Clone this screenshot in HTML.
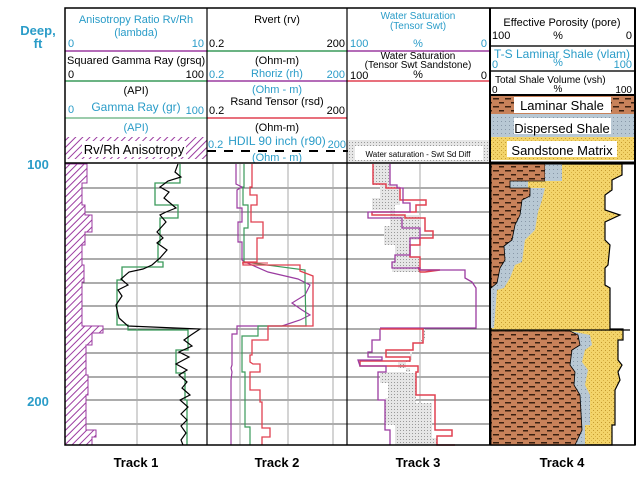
<!DOCTYPE html>
<html><head><meta charset="utf-8"><style>
html,body{margin:0;padding:0;background:#fff;width:644px;height:480px;overflow:hidden}
svg{display:block;font-family:"Liberation Sans",sans-serif}
.b{fill:#2a9cc8}.k{fill:#000}
</style></head><body>
<svg width="644" height="480" viewBox="0 0 644 480" xmlns="http://www.w3.org/2000/svg">
<defs>
<pattern id="hatch" width="5" height="5" patternUnits="userSpaceOnUse" patternTransform="rotate(45)">
<rect width="5" height="5" fill="#fff"/><line x1="0" y1="0" x2="0" y2="5" stroke="#9b3ba0" stroke-width="2"/></pattern>
<pattern id="shale" width="12" height="8" patternUnits="userSpaceOnUse">
<rect width="12" height="8" fill="#c8825a"/><rect x="1" y="2" width="6" height="1.5" fill="#3a2010"/><rect x="7" y="6" width="5" height="1.5" fill="#3a2010"/></pattern>
<pattern id="disp" width="4" height="4" patternUnits="userSpaceOnUse">
<rect width="4" height="4" fill="#b8c8d4"/><rect x="1" y="1" width="1" height="1" fill="#8898a8"/></pattern>
<pattern id="sand" width="4" height="4" patternUnits="userSpaceOnUse">
<rect width="4" height="4" fill="#f3d46a"/><rect x="1" y="2" width="1" height="1" fill="#c49a30"/><rect x="3" y="0" width="1" height="1" fill="#d8b040"/></pattern>
<pattern id="dots" width="3" height="3" patternUnits="userSpaceOnUse">
<rect width="3" height="3" fill="#e6e6e6"/><rect x="1" y="1" width="1" height="1" fill="#999"/></pattern>
</defs>

<!-- depth labels -->
<text x="38" y="35" font-size="13" font-weight="bold" class="b" text-anchor="middle">Deep,</text>
<text x="38" y="48" font-size="13" font-weight="bold" class="b" text-anchor="middle">ft</text>
<text x="38" y="169" font-size="13" font-weight="bold" class="b" text-anchor="middle">100</text>
<text x="38" y="406" font-size="13" font-weight="bold" class="b" text-anchor="middle">200</text>

<!-- Track 1 header -->
<g font-size="11">
<text x="136" y="23" class="b" text-anchor="middle">Anisotropy Ratio Rv/Rh</text>
<text x="136" y="36" class="b" text-anchor="middle">(lambda)</text>
<text x="68" y="47" class="b">0</text><text x="204" y="47" class="b" text-anchor="end">10</text>
<line x1="65" y1="51" x2="207" y2="51" stroke="#9b3ba0" stroke-width="1.5"/>
<text x="67" y="64">Squared Gamma Ray (grsq)</text>
<text x="68" y="78">0</text><text x="204" y="78" text-anchor="end">100</text>
<line x1="65" y1="81" x2="207" y2="81" stroke="#3a9a5a" stroke-width="1.5"/>
<text x="136" y="94" text-anchor="middle">(API)</text>
<text x="68" y="113" class="b">0</text><text x="136" y="111" class="b" text-anchor="middle" font-size="12">Gamma Ray (gr)</text><text x="204" y="114" class="b" text-anchor="end">100</text>
<line x1="65" y1="118" x2="207" y2="118" stroke="#3a9a5a" stroke-width="1"/>
<text x="136" y="131" class="b" text-anchor="middle">(API)</text>
<rect x="65" y="137" width="142" height="22" fill="url(#hatch)"/>
<rect x="82" y="141" width="104" height="16" fill="#fff"/>
<text x="134" y="154" text-anchor="middle" font-size="13">Rv/Rh Anisotropy</text>
</g>

<!-- Track 2 header -->
<g font-size="11">
<text x="277" y="23" text-anchor="middle">Rvert (rv)</text>
<text x="209" y="47">0.2</text><text x="345" y="47" text-anchor="end">200</text>
<line x1="207" y1="51" x2="347" y2="51" stroke="#3a9a5a" stroke-width="1.5"/>
<text x="277" y="64" text-anchor="middle">(Ohm-m)</text>
<text x="209" y="78" class="b">0.2</text><text x="277" y="77" class="b" text-anchor="middle">Rhoriz (rh)</text><text x="345" y="78" class="b" text-anchor="end">200</text>
<line x1="207" y1="81" x2="347" y2="81" stroke="#9b3ba0" stroke-width="1.5"/>
<text x="277" y="93" class="b" text-anchor="middle">(Ohm - m)</text>
<text x="277" y="105" text-anchor="middle">Rsand Tensor (rsd)</text>
<text x="209" y="114">0.2</text><text x="345" y="114" text-anchor="end">200</text>
<line x1="207" y1="118" x2="347" y2="118" stroke="#e04050" stroke-width="1.5"/>
<text x="277" y="131" text-anchor="middle">(Ohm-m)</text>
<text x="208" y="148" class="b">0.2</text><text x="277" y="145" class="b" text-anchor="middle" font-size="12">HDIL 90 inch (r90)</text><text x="346" y="148" class="b" text-anchor="end">200</text>
<line x1="207" y1="151" x2="352" y2="151" stroke="#000" stroke-width="2" stroke-dasharray="9,8"/>
<text x="277" y="161" class="b" text-anchor="middle">(Ohm - m)</text>
</g>

<!-- Track 3 header -->
<g font-size="10">
<text x="418" y="19" class="b" text-anchor="middle">Water Saturation</text>
<text x="418" y="29" class="b" text-anchor="middle">(Tensor Swt)</text>
<text x="350" y="47" class="b" font-size="11">100</text><text x="418" y="47" class="b" text-anchor="middle" font-size="11">%</text><text x="487" y="47" class="b" text-anchor="end" font-size="11">0</text>
<line x1="347" y1="51" x2="490" y2="51" stroke="#9b3ba0" stroke-width="1.5"/>
<text x="418" y="59" text-anchor="middle">Water Saturation</text>
<text x="418" y="68" text-anchor="middle">(Tensor Swt Sandstone)</text>
<text x="350" y="79" font-size="11">100</text><text x="418" y="78" text-anchor="middle" font-size="11">%</text><text x="487" y="79" text-anchor="end" font-size="11">0</text>
<line x1="347" y1="81" x2="490" y2="81" stroke="#e04050" stroke-width="1.5"/>
<rect x="348" y="140" width="141" height="23" fill="url(#dots)"/>
<rect x="355" y="146" width="128" height="14" fill="#fff"/>
<text x="418" y="157" text-anchor="middle" font-size="8">Water saturation - Swt Sd Diff</text>
</g>

<!-- Track 4 header -->
<g font-size="11">
<text x="562" y="26" text-anchor="middle">Effective Porosity (pore)</text>
<text x="492" y="39">100</text><text x="558" y="39" text-anchor="middle">%</text><text x="632" y="39" text-anchor="end">0</text>
<line x1="490" y1="46" x2="635" y2="46" stroke="#555" stroke-width="2"/>
<text x="562" y="58" class="b" text-anchor="middle" font-size="12">T-S Laminar Shale (vlam)</text>
<text x="492" y="68" class="b">0</text><text x="558" y="66" class="b" text-anchor="middle">%</text><text x="632" y="68" class="b" text-anchor="end">100</text>
<line x1="490" y1="71" x2="635" y2="71" stroke="#555" stroke-width="2"/>
<text x="495" y="83" font-size="10">Total Shale Volume (vsh)</text>
<text x="492" y="93" font-size="10">0</text><text x="558" y="92" text-anchor="middle" font-size="10">%</text><text x="632" y="93" text-anchor="end" font-size="10">100</text>
<rect x="490" y="95" width="145" height="19" fill="url(#shale)"/>
<rect x="490" y="114" width="145" height="23" fill="url(#disp)"/>
<rect x="490" y="137" width="145" height="23" fill="url(#sand)"/>
<rect x="514" y="97" width="97" height="16" fill="#fff"/>
<rect x="514" y="118" width="97" height="16" fill="#fff"/>
<rect x="507" y="141" width="110" height="16" fill="#fff"/>
<text x="562" y="110" text-anchor="middle" font-size="13">Laminar Shale</text>
<text x="562" y="133" text-anchor="middle" font-size="13">Dispersed Shale</text>
<text x="562" y="155" text-anchor="middle" font-size="13">Sandstone Matrix</text>
<line x1="490" y1="95" x2="635" y2="95" stroke="#000" stroke-width="2"/>
</g>

<!-- grid in data area -->
<g stroke="#222" stroke-width="0.8">
<line x1="65" y1="188" x2="633" y2="188"/><line x1="65" y1="212" x2="490" y2="212"/>
<line x1="65" y1="235" x2="490" y2="235"/><line x1="65" y1="259" x2="490" y2="259"/>
<line x1="65" y1="283" x2="490" y2="283"/><line x1="65" y1="306" x2="490" y2="306"/>
<line x1="65" y1="329" x2="490" y2="329"/><line x1="65" y1="353" x2="490" y2="353"/>
<line x1="65" y1="377" x2="490" y2="377"/><line x1="65" y1="400" x2="490" y2="400"/>
<line x1="65" y1="424" x2="490" y2="424"/>
</g>
<g stroke="#aaa" stroke-width="1">
<line x1="137" y1="164" x2="137" y2="445"/><line x1="240" y1="164" x2="240" y2="445"/>
<line x1="288" y1="164" x2="288" y2="445"/><line x1="333" y1="164" x2="333" y2="445"/>
<line x1="420" y1="164" x2="420" y2="445"/>
</g>

<!-- Track 1 data: anisotropy hatch -->
<path d="M65,164 L87,164 L87,183 L82,183 L82,205 L85,205 L85,215 L92,215 L92,232 L85,232 L85,245 L82,245 L82,265 L84,265 L84,282 L82,282 L82,326 L103,326 L103,333 L92,333 L92,345 L86,345 L86,375 L88,375 L88,395 L86,395 L86,430 L96,430 L96,437 L92,437 L92,445 L65,445 Z" fill="url(#hatch)" stroke="#9b3ba0" stroke-width="1"/>
<!-- GR green -->
<polyline fill="none" stroke="#3a9a5a" stroke-width="1.3" points="180,164 180,183 155,183 155,205 178,205 178,218 160,218 160,243 158,243 158,262 163,262 163,267 122,267 122,280 117,280 117,325 128,325 128,330 188,330 188,350 176,350 176,373 185,373 185,400 187,400 187,445"/>
<!-- GR black -->
<polyline fill="none" stroke="#000" stroke-width="1.2" points="178,164 175,172 181,177 168,181 160,187 169,192 164,198 176,208 166,212 160,215 166,222 157,232 163,238 157,243 167,250 160,258 152,265 143,269 129,272 121,279 128,285 118,290 122,296 116,305 119,318 128,326 200,329 191,335 184,340 192,346 179,352 189,357 176,364 187,370 179,375 187,382 182,388 190,395 180,400 188,407 181,414 187,420 181,426 186,433 181,440 183,445"/>

<!-- Track 2 data -->
<polyline fill="none" stroke="#9b3ba0" stroke-width="1.2" points="236,164 236,184 242,187 237,190 237,208 242,208 242,222 238,222 238,242 242,242 242,260 245,262 268,272 298,279 310,285 305,295 292,303 302,310 310,315 300,320 282,326 237,326 237,334 232,334 232,365 231,368 232,372 231,380 231,445"/>
<polyline fill="none" stroke="#3a9a5a" stroke-width="1.2" points="244,164 244,187 243,187 243,205 248,205 248,228 244,228 244,262 305,270 305,282 306,326 258,326 258,336 242,336 242,372 245,372 245,427 250,427 250,445"/>
<polyline fill="none" stroke="#e04050" stroke-width="1.3" points="252,164 252,187 250,187 250,195 257,195 257,205 251,205 251,222 263,222 263,238 257,238 257,262 243,262 243,265 300,265 300,271 313,276 313,326 268,326 268,340 252,340 252,355 250,355 250,362 253,364 260,364 260,372 250,372 250,390 260,390 260,402 262,402 262,428 270,428 270,437 262,437 262,445"/>
<line x1="242" y1="263" x2="268" y2="263" stroke="#e04050" stroke-width="1"/>

<!-- Track 3 data -->
<path d="M373,164 L390,164 L390,186 L400,186 L400,205 L395,205 L395,215 L420,215 L420,240 L410,240 L410,257 L420,257 L420,272 L392,272 L392,262 L395,262 L395,245 L384,245 L384,226 L390,226 L390,210 L372,210 L372,198 L380,198 L380,185 L373,185 Z" fill="url(#dots)"/>
<polyline fill="none" stroke="#e04050" stroke-width="1.5" points="373,164 373,184 386,184 386,188 400,188 400,200 426,200 426,205 416,205 416,212 372,212 372,215 405,215 405,218 425,218 425,231 433,231 433,238 420,238 420,245 410,245 410,257 420,257 420,270 440,270 425,272 420,272 418,267"/>
<polyline fill="none" stroke="#9b3ba0" stroke-width="1.3" points="390,164 390,185 397,185 397,188 403,188 403,203 410,203 410,212 368,212 368,218 402,218 402,228 420,228 420,238 410,238 410,255 395,255 395,262 392,262 392,268 420,268 420,270 465,270 465,278 472,282 476,288 476,328 380,328"/>
<path d="M380,329 L425,329 L425,340 L420,340 L420,352 L410,352 L410,362 L398,362 L398,368 L410,368 L410,372 L380,372 L380,383 L388,383 L388,398 L385,398 L385,425 L395,425 L395,445 L437,445 L437,438 L432,438 L432,403 L416,403 L416,373 L406,373 L406,360 L412,360 L412,352 L420,352 L420,343 L424,343 L424,329 Z" fill="url(#dots)"/>
<polyline fill="none" stroke="#e04050" stroke-width="1.5" points="380,329 423,329 423,343 413,343 413,350 386,350 386,357 410,357 410,361 360,361 360,366 418,366 418,372 416,372 416,395 435,395 435,430 452,430 452,436 437,436 437,445 455,445"/>
<polyline fill="none" stroke="#9b3ba0" stroke-width="1.3" points="380,329 380,340 372,340 372,352 368,352 368,357 382,357 382,360 358,360 360,366 386,366 386,372 378,372 378,400 385,400 385,430 390,430 390,445"/>

<!-- Track 4 data -->
<rect x="491" y="164" width="142" height="281" fill="#fff"/>
<path d="M491,164 L622,164 L622,175 L612,180 L612,190 L605,195 L605,210 L620,215 L605,222 L605,240 L610,245 L608,265 L605,268 L605,285 L610,288 L610,329 L623,329 L623,340 L618,340 L618,360 L622,365 L618,372 L620,380 L615,390 L615,425 L612,425 L612,445 L491,445 Z" fill="url(#sand)" stroke="#000" stroke-width="1.2"/>
<path d="M491,164 L546,164 L546,180 L528,180 L528,188 L545,188 L542,200 L538,212 L535,230 L525,240 L522,262 L515,265 L510,278 L504,288 L497,290 L494,328 L491,328 Z" fill="url(#disp)"/>
<path d="M491,164 L545,164 L545,181 L510,181 L510,188 L530,188 L530,196 L522,200 L520,215 L515,225 L512,240 L504,246 L505,260 L500,268 L497,283 L491,288 Z" fill="url(#shale)" stroke="#000" stroke-width="0.8"/>
<rect x="545" y="164" width="17" height="17" fill="url(#disp)"/>
<path d="M491,331 L570,331 L590,335 L592,345 L585,350 L582,362 L588,370 L585,385 L590,395 L590,425 L585,425 L585,445 L491,445 Z" fill="url(#disp)"/>
<path d="M491,331 L570,331 L578,335 L580,345 L572,350 L570,365 L575,372 L574,385 L580,395 L582,430 L575,445 L491,445 Z" fill="url(#shale)" stroke="#000" stroke-width="0.8"/>
<line x1="491" y1="330" x2="630" y2="330" stroke="#000" stroke-width="1.2"/>

<!-- frames -->
<rect x="65" y="8" width="570" height="437" fill="none" stroke="#000" stroke-width="1.5"/>
<line x1="65" y1="163" x2="635" y2="163" stroke="#000" stroke-width="1.5"/>
<line x1="207" y1="8" x2="207" y2="445" stroke="#000" stroke-width="1.2"/>
<line x1="347" y1="8" x2="347" y2="445" stroke="#000" stroke-width="1.2"/>
<line x1="490" y1="8" x2="490" y2="445" stroke="#000" stroke-width="2"/>
<line x1="490" y1="163" x2="635" y2="163" stroke="#000" stroke-width="3"/>
<line x1="635" y1="8" x2="635" y2="445" stroke="#000" stroke-width="2"/>

<!-- track labels -->
<g font-size="13" font-weight="bold" text-anchor="middle">
<text x="136" y="467">Track 1</text><text x="277" y="467">Track 2</text>
<text x="418" y="467">Track 3</text><text x="562" y="467">Track 4</text>
</g>
</svg>
</body></html>
